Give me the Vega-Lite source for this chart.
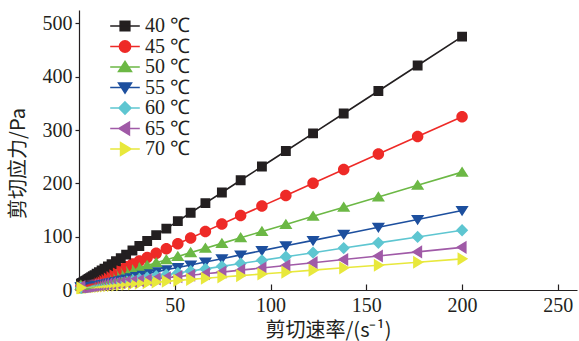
{
  "$schema": "https://vega.github.io/schema/vega-lite/v6.json",
  "width": 498,
  "height": 280,
  "autosize": {"type": "none"},
  "padding": {"left": 79, "top": 10, "right": 2, "bottom": 51},
  "background": "white",
  "data": {
    "values": [
      {"rate": 200, "40 ℃": 475, "45 ℃": 325, "50 ℃": 221, "55 ℃": 149, "60 ℃": 112, "65 ℃": 80, "70 ℃": 58.4},
      {"rate": 176.8, "40 ℃": 420.9, "45 ℃": 287.8, "50 ℃": 196.3, "55 ℃": 132.3, "60 ℃": 99.5, "65 ℃": 71.4, "70 ℃": 52.1},
      {"rate": 156.3, "40 ℃": 373.2, "45 ℃": 254.9, "50 ℃": 174.5, "55 ℃": 117.5, "60 ℃": 88.4, "65 ℃": 63.8, "70 ℃": 46.5},
      {"rate": 138.2, "40 ℃": 331, "45 ℃": 225.8, "50 ℃": 155.2, "55 ℃": 104.5, "60 ℃": 78.6, "65 ℃": 57.1, "70 ℃": 41.6},
      {"rate": 122.2, "40 ℃": 293.7, "45 ℃": 200.1, "50 ℃": 138.1, "55 ℃": 93, "60 ℃": 70, "65 ℃": 51.2, "70 ℃": 37.2},
      {"rate": 108, "40 ℃": 260.6, "45 ℃": 177.3, "50 ℃": 123, "55 ℃": 82.8, "60 ℃": 62.3, "65 ℃": 46, "70 ℃": 33.4},
      {"rate": 95.5, "40 ℃": 231.5, "45 ℃": 157.3, "50 ℃": 109.7, "55 ℃": 73.8, "60 ℃": 55.6, "65 ℃": 41.3, "70 ℃": 30},
      {"rate": 84.4, "40 ℃": 205.7, "45 ℃": 139.5, "50 ℃": 97.9, "55 ℃": 65.8, "60 ℃": 49.6, "65 ℃": 37.2, "70 ℃": 27},
      {"rate": 74.6, "40 ℃": 182.8, "45 ℃": 123.7, "50 ℃": 87.4, "55 ℃": 58.7, "60 ℃": 44.3, "65 ℃": 33.6, "70 ℃": 24.3},
      {"rate": 66, "40 ℃": 162.8, "45 ℃": 109.9, "50 ℃": 78.3, "55 ℃": 52.5, "60 ℃": 39.6, "65 ℃": 30.4, "70 ℃": 22},
      {"rate": 58.3, "40 ℃": 144.8, "45 ℃": 97.6, "50 ℃": 70.1, "55 ℃": 47, "60 ℃": 35.5, "65 ℃": 27.6, "70 ℃": 19.9},
      {"rate": 51.6, "40 ℃": 129.2, "45 ℃": 86.8, "50 ℃": 63, "55 ℃": 42.2, "60 ℃": 31.9, "65 ℃": 25.1, "70 ℃": 18},
      {"rate": 45.6, "40 ℃": 115.2, "45 ℃": 77.2, "50 ℃": 56.6, "55 ℃": 37.8, "60 ℃": 28.6, "65 ℃": 22.9, "70 ℃": 16.4},
      {"rate": 40.3, "40 ℃": 102.9, "45 ℃": 68.7, "50 ℃": 50.9, "55 ℃": 34, "60 ℃": 25.8, "65 ℃": 20.9, "70 ℃": 15},
      {"rate": 35.6, "40 ℃": 91.9, "45 ℃": 61.1, "50 ℃": 45.9, "55 ℃": 30.6, "60 ℃": 23.2, "65 ℃": 19.2, "70 ℃": 13.7},
      {"rate": 31.5, "40 ℃": 82.4, "45 ℃": 54.6, "50 ℃": 41.5, "55 ℃": 27.7, "60 ℃": 21, "65 ℃": 17.7, "70 ℃": 12.6},
      {"rate": 27.9, "40 ℃": 74, "45 ℃": 48.8, "50 ℃": 37.7, "55 ℃": 25.1, "60 ℃": 19.1, "65 ℃": 16.3, "70 ℃": 11.6},
      {"rate": 24.6, "40 ℃": 66.3, "45 ℃": 43.5, "50 ℃": 34.2, "55 ℃": 22.7, "60 ℃": 17.3, "65 ℃": 15.1, "70 ℃": 10.7},
      {"rate": 21.8, "40 ℃": 59.8, "45 ℃": 39, "50 ℃": 31.2, "55 ℃": 20.7, "60 ℃": 15.8, "65 ℃": 14.1, "70 ℃": 9.9},
      {"rate": 19.3, "40 ℃": 54, "45 ℃": 35, "50 ℃": 28.6, "55 ℃": 18.9, "60 ℃": 14.4, "65 ℃": 13.1, "70 ℃": 9.2},
      {"rate": 17, "40 ℃": 48.6, "45 ℃": 31.3, "50 ℃": 26.1, "55 ℃": 17.2, "60 ℃": 13.2, "65 ℃": 12.3, "70 ℃": 8.6},
      {"rate": 15.1, "40 ℃": 44.2, "45 ℃": 28.2, "50 ℃": 24.1, "55 ℃": 15.9, "60 ℃": 12.2, "65 ℃": 11.6, "70 ℃": 8.1},
      {"rate": 13.3, "40 ℃": 40, "45 ℃": 25.3, "50 ℃": 22.2, "55 ℃": 14.6, "60 ℃": 11.2, "65 ℃": 10.9, "70 ℃": 7.6},
      {"rate": 11.8, "40 ℃": 36.5, "45 ℃": 22.9, "50 ℃": 20.6, "55 ℃": 13.5, "60 ℃": 10.4, "65 ℃": 10.4, "70 ℃": 7.2},
      {"rate": 10.4, "40 ℃": 33.2, "45 ℃": 20.7, "50 ℃": 19.1, "55 ℃": 12.5, "60 ℃": 9.6, "65 ℃": 9.8, "70 ℃": 6.8},
      {"rate": 9.2, "40 ℃": 30.4, "45 ℃": 18.8, "50 ℃": 17.8, "55 ℃": 11.6, "60 ℃": 9, "65 ℃": 9.4, "70 ℃": 6.5},
      {"rate": 8.1, "40 ℃": 27.9, "45 ℃": 17, "50 ℃": 16.6, "55 ℃": 10.8, "60 ℃": 8.4, "65 ℃": 9, "70 ℃": 6.2},
      {"rate": 7.2, "40 ℃": 25.8, "45 ℃": 15.6, "50 ℃": 15.7, "55 ℃": 10.2, "60 ℃": 7.9, "65 ℃": 8.7, "70 ℃": 6},
      {"rate": 6.4, "40 ℃": 23.9, "45 ℃": 14.3, "50 ℃": 14.8, "55 ℃": 9.6, "60 ℃": 7.5, "65 ℃": 8.4, "70 ℃": 5.7},
      {"rate": 5.6, "40 ℃": 22, "45 ℃": 13, "50 ℃": 14, "55 ℃": 9, "60 ℃": 7, "65 ℃": 8.1, "70 ℃": 5.5},
      {"rate": 5, "40 ℃": 20.7, "45 ℃": 12, "50 ℃": 13.3, "55 ℃": 8.6, "60 ℃": 6.7, "65 ℃": 7.9, "70 ℃": 5.4},
      {"rate": 4.4, "40 ℃": 19.3, "45 ℃": 11.1, "50 ℃": 12.7, "55 ℃": 8.2, "60 ℃": 6.4, "65 ℃": 7.6, "70 ℃": 5.2},
      {"rate": 3.9, "40 ℃": 18.1, "45 ℃": 10.3, "50 ℃": 12.2, "55 ℃": 7.8, "60 ℃": 6.1, "65 ℃": 7.4, "70 ℃": 5.1},
      {"rate": 3.4, "40 ℃": 16.9, "45 ℃": 9.5, "50 ℃": 11.6, "55 ℃": 7.4, "60 ℃": 5.8, "65 ℃": 7.3, "70 ℃": 4.9},
      {"rate": 3, "40 ℃": 16, "45 ℃": 8.8, "50 ℃": 11.2, "55 ℃": 7.2, "60 ℃": 5.6, "65 ℃": 7.1, "70 ℃": 4.8},
      {"rate": 2.7, "40 ℃": 15.3, "45 ℃": 8.3, "50 ℃": 10.9, "55 ℃": 6.9, "60 ℃": 5.5, "65 ℃": 7, "70 ℃": 4.7},
      {"rate": 2.4, "40 ℃": 14.6, "45 ℃": 7.9, "50 ℃": 10.6, "55 ℃": 6.7, "60 ℃": 5.3, "65 ℃": 6.9, "70 ℃": 4.7},
      {"rate": 2.1, "40 ℃": 13.9, "45 ℃": 7.4, "50 ℃": 10.2, "55 ℃": 6.5, "60 ℃": 5.1, "65 ℃": 6.8, "70 ℃": 4.6},
      {"rate": 1.9, "40 ℃": 13.4, "45 ℃": 7, "50 ℃": 10, "55 ℃": 6.4, "60 ℃": 5, "65 ℃": 6.7, "70 ℃": 4.5},
      {"rate": 1.65, "40 ℃": 12.8, "45 ℃": 6.6, "50 ℃": 9.8, "55 ℃": 6.2, "60 ℃": 4.9, "65 ℃": 6.6, "70 ℃": 4.4},
      {"rate": 1.46, "40 ℃": 12.4, "45 ℃": 6.3, "50 ℃": 9.6, "55 ℃": 6.1, "60 ℃": 4.8, "65 ℃": 6.5, "70 ℃": 4.4},
      {"rate": 1.29, "40 ℃": 12, "45 ℃": 6.1, "50 ℃": 9.4, "55 ℃": 5.9, "60 ℃": 4.7, "65 ℃": 6.5, "70 ℃": 4.4},
      {"rate": 1.14, "40 ℃": 11.7, "45 ℃": 5.8, "50 ℃": 9.2, "55 ℃": 5.8, "60 ℃": 4.6, "65 ℃": 6.4, "70 ℃": 4.3},
      {"rate": 1, "40 ℃": 11.3, "45 ℃": 5.6, "50 ℃": 9.1, "55 ℃": 5.7, "60 ℃": 4.5, "65 ℃": 6.4, "70 ℃": 4.3}
    ]
  },
  "transform": [
    {"fold": ["40 ℃", "45 ℃", "50 ℃", "55 ℃", "60 ℃", "65 ℃", "70 ℃"], "as": ["temp", "stress"]}
  ],
  "encoding": {
    "x": {
      "field": "rate",
      "type": "quantitative",
      "scale": {"domain": [0, 260], "nice": false},
      "axis": {
        "values": [50, 100, 150, 200, 250],
        "tickSize": -6,
        "labelPadding": 11,
        "title": "剪切速率/(s⁻¹)",
        "titleX": 249,
        "titleY": 40,
        "titleBaseline": "middle",
        "titleAlign": "center"
      }
    },
    "y": {
      "field": "stress",
      "type": "quantitative",
      "scale": {"domain": [0, 525], "nice": false},
      "axis": {
        "values": [0, 100, 200, 300, 400, 500],
        "tickSize": 4,
        "labelPadding": 3,
        "title": "剪切应力/Pa",
        "titleX": -61,
        "titleY": 153,
        "titleAngle": -90,
        "titleBaseline": "middle",
        "titleAlign": "center"
      }
    },
    "color": {
      "field": "temp",
      "type": "nominal",
      "scale": {
        "domain": ["40 ℃", "45 ℃", "50 ℃", "55 ℃", "60 ℃", "65 ℃", "70 ℃"],
        "range": ["#231f20", "#ee2a27", "#6cb845", "#1d4f9e", "#5ec6d1", "#a05aa7", "#e8e83c"]
      },
      "legend": {
        "title": null,
        "orient": "none",
        "legendX": 36,
        "legendY": 6,
        "symbolSize": 256,
        "symbolStrokeWidth": 1.6,
        "rowPadding": 0.5,
        "labelOffset": 10,
        "labelFontSize": 20,
        "labelColor": "#231f20"
      }
    }
  },
  "layer": [
    {
      "mark": {"type": "line", "strokeWidth": 1.6}
    },
    {
      "mark": {"type": "point", "filled": true, "opacity": 1, "size": 270},
      "encoding": {
        "stroke": {
          "field": "temp",
          "type": "nominal",
          "scale": {
            "domain": ["40 ℃", "45 ℃", "50 ℃", "55 ℃", "60 ℃", "65 ℃", "70 ℃"],
            "range": ["#231f20", "#ee2a27", "#6cb845", "#1d4f9e", "#5ec6d1", "#a05aa7", "#e8e83c"]
          },
          "legend": {
            "title": null,
            "orient": "none",
            "legendX": 36,
            "legendY": 6,
            "symbolSize": 256,
            "symbolStrokeWidth": 1.6,
            "rowPadding": 0.5,
            "labelOffset": 10,
            "labelFontSize": 20,
            "labelColor": "#231f20"
          }
        },
        "strokeWidth": {"value": 0},
        "shape": {
          "field": "temp",
          "type": "nominal",
          "scale": {
            "domain": ["40 ℃", "45 ℃", "50 ℃", "55 ℃", "60 ℃", "65 ℃", "70 ℃"],
            "range": [
              "M-1.85,0H1.85M-0.6,-0.6H0.6V0.6H-0.6Z",
              "M-1.85,0H1.85M-0.7,0A0.7,0.7,0,1,0,0.7,0A0.7,0.7,0,1,0,-0.7,0Z",
              "M-1.85,0H1.85M0,-0.7L0.8,0.55H-0.8Z",
              "M-1.85,0H1.85M0,0.7L0.8,-0.55H-0.8Z",
              "M-1.85,0H1.85M0,-0.75L0.75,0L0,0.75L-0.75,0Z",
              "M-1.85,0H1.85M-0.75,0L0.55,-0.8V0.8Z",
              "M-1.85,0H1.85M0.75,0L-0.55,-0.8V0.8Z"
            ]
          },
          "legend": {
            "title": null,
            "orient": "none",
            "legendX": 36,
            "legendY": 6,
            "symbolSize": 256,
            "symbolStrokeWidth": 1.6,
            "rowPadding": 0.5,
            "labelOffset": 10,
            "labelFontSize": 20,
            "labelColor": "#231f20"
          }
        }
      }
    }
  ],
  "config": {
    "view": {"stroke": null},
    "legend": {"labelFont": "Liberation Serif, serif"},
    "axis": {
      "grid": false,
      "domainColor": "#231f20",
      "domainWidth": 1.2,
      "tickColor": "#231f20",
      "tickWidth": 1.2,
      "labelFont": "Liberation Serif, serif",
      "labelFontSize": 20,
      "labelColor": "#231f20",
      "titleFont": "Noto Sans CJK SC",
      "titleFontSize": 20,
      "titleFontWeight": "normal",
      "titleColor": "#231f20"
    }
  }
}
